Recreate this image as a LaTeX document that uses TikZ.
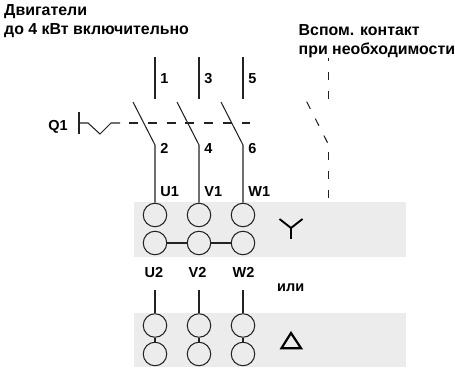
\documentclass[tikz,border=0pt]{standalone}
\usepackage{fontspec}
\setmainfont{Liberation Sans}
\usetikzlibrary{positioning}
\definecolor{bandgray}{HTML}{ECECEC}
\definecolor{wirecol}{HTML}{222222}
\tikzset{
  wire/.style={draw=wirecol, line width=1.05pt},
  term/.style={circle, draw=wirecol, line width=1.05pt, minimum size=23.5pt, inner sep=0pt},
  lbl/.style={font=\bfseries\fontsize{14.5}{14.5}\selectfont, text=black, inner sep=0pt, anchor=base west},
  headlbl/.style={lbl, font=\bfseries\fontsize{15.9}{15.9}\selectfont},
  ctrlline/.style={wire, dash pattern=on 9pt off 9.8pt},
  auxline/.style={wire, dash pattern=on 8pt off 11pt},
  symbol/.style={draw=black, line width=1.9pt},
  band/.style={fill=bandgray, draw=none}
}
\begin{document}
\begin{tikzpicture}[x=1pt,y=-1pt]
    \useasboundingbox (0,0) rectangle (455,369);
    % grey bands
    \fill[band] (134,202) rectangle (406,257);
    \fill[band] (134,312.7) rectangle (406,367.3);

    % terminals, star block and delta block
    \foreach \col/\x/\name in {a/155/U, b/199/V, c/243/W} {
        \node[term] (\col1) at (\x,215) {};
        \node[term] (\col2) at (\x,243) {};
        \node[term] (\col3) at (\x,325.5) {};
        \node[term] (\col4) at (\x,354) {};
        \coordinate (\col top) at (\x,57.5);
        \coordinate (\col bot) at (\x,99);
        \coordinate (\col hinge) at (\x,145);
        \coordinate (\col free) at (\x-22,102);
        \coordinate (\col stub) at (\x,290);
        \draw[wire] (\col top) -- (\col bot);
        \draw[wire] (\col free) -- (\col hinge) -- (\col1);
        \draw[wire] (\col stub) -- (\col3);
        \draw[wire] (\col3) -- (\col4);
        \node[lbl] (\col upper) at (\x+5.2,196.7) {\name1};
        \node[lbl] (\col lower) at (\x-10.5,277.3) {\name2};
    }
    \draw[wire] (a2) -- (b2);
    \draw[wire] (b2) -- (c2);

    % contact numbers
    \foreach \x/\top/\low in {155/1/2, 199/3/4, 243/5/6} {
        \node[lbl] at (\x+5.2,83.7) {\top};
        \node[lbl] at (\x+5.2,153) {\low};
    }

    % breaker handle
    \node[lbl] (qone) at (48.2,130.7) {Q1};
    \coordinate (handletop) at (79,112);
    \coordinate (handlebot) at (79,134);
    \coordinate (handlemid) at (79,123);
    \coordinate (linkstart) at (129,123);
    \coordinate (linkend) at (250,123);
    \draw[wire] (handletop) -- (handlebot);
    \draw[wire] (handlemid) -- ++(9,0) -- ++(12,11) -- ++(11,-11) -- ++(9,0);
    \draw[ctrlline] (linkstart) -- (linkend);

    % auxiliary contact
    \coordinate (auxtop) at (328.3,57.7);
    \coordinate (auxbot) at (328.3,99);
    \coordinate (auxfree) at (306.7,101.7);
    \coordinate (auxhinge) at (327.7,143);
    \coordinate (auxlow) at (328.3,152);
    \coordinate (auxend) at (328.3,198);
    \draw[auxline] (auxbot) -- (auxtop);
    \draw[auxline] (auxfree) -- (auxhinge);
    \draw[auxline] (auxlow) -- (auxend);

    % star symbol
    \coordinate (starmid) at (291,228);
    \draw[symbol] (279.5,219) -- (starmid) -- (302.5,219);
    \draw[symbol] (starmid) -- (291,239);
    % delta symbol
    \draw[symbol, line width=2.2pt, miter limit=10] (291,333) -- (301,348.2) -- (281.5,348.2) -- cycle;

    % headings
    \node[headlbl] (motors) at (4,16) {Двигатели};
    \node[headlbl] (range) at (4,35) {до 4 кВт включительно};
    \node[headlbl] (auxhead) at (298.5,35.7) {Вспом. контакт};
    \node[headlbl] (auxwhen) at (298.5,54.5) {при необходимости};
    \node[lbl] (ili) at (277,291) {или};
\end{tikzpicture}
\end{document}
